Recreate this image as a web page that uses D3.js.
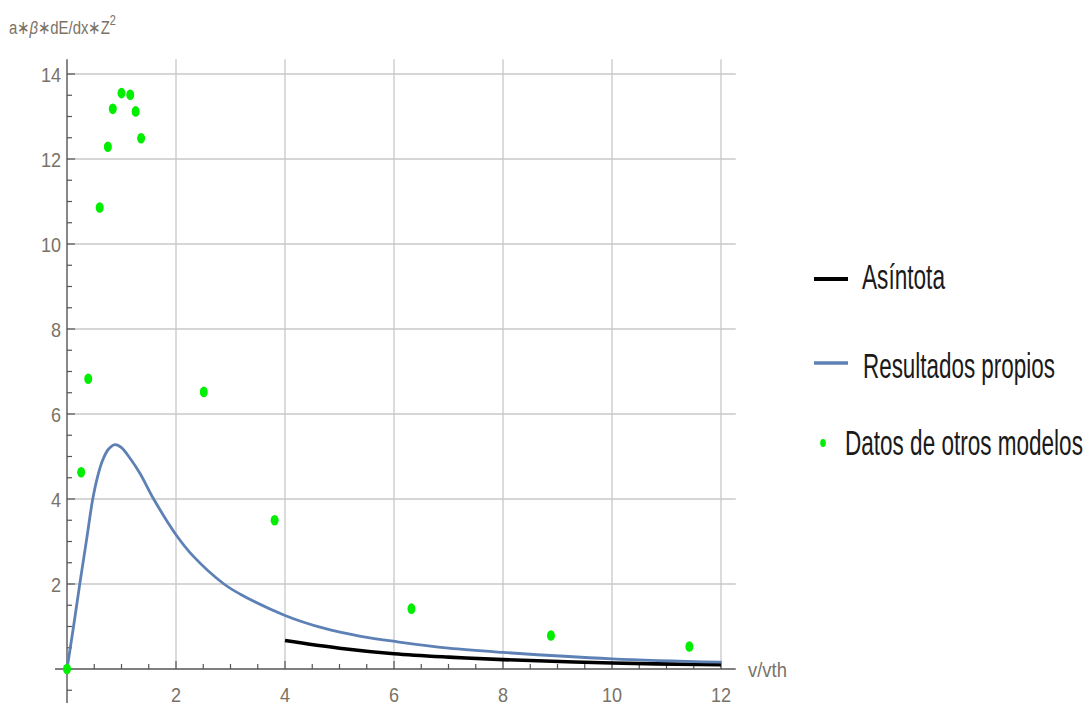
<!DOCTYPE html>
<html><head><meta charset="utf-8">
<script src="https://cdn.jsdelivr.net/npm/d3@7"></script>
<style>body{margin:0;background:#fff}svg{display:block}text{font-family:"Liberation Sans",Arial,sans-serif}</style>
</head><body>
<svg id="c" width="1090" height="705"></svg>
<script>
const xTicks = [2, 4, 6, 8, 10, 12];
const yTicks = [2, 4, 6, 8, 10, 12, 14];
const otrosX = [0, 0.26, 0.39, 0.60, 0.75, 0.84, 1.00, 1.16, 1.26, 1.36, 2.51, 3.81, 6.32, 8.88, 11.42];
const otrosY = [0, 4.63, 6.83, 10.86, 12.29, 13.18, 13.55, 13.51, 13.12, 12.49, 6.52, 3.50, 1.42, 0.79, 0.53];
const propiosX = [0, 0.12, 0.24, 0.36, 0.47, 0.56, 0.65, 0.76, 0.88, 1.0, 1.15, 1.34, 1.59, 2.0, 2.32, 2.88, 3.18, 4.0, 4.71, 5.39, 6.06, 7, 8, 10, 12];
const propiosY = [0, 1.0, 2.05, 3.05, 3.98, 4.52, 4.9, 5.17, 5.28, 5.21, 4.97, 4.6, 4.0, 3.16, 2.65, 2.0, 1.76, 1.26, 0.96, 0.77, 0.64, 0.49, 0.39, 0.24, 0.16];
const asintX = [4, 5, 6, 7, 8, 10, 12];
const asintY = [0.67, 0.49, 0.36, 0.28, 0.22, 0.14, 0.10];
const legendLabels = ["Asíntota", "Resultados propios", "Datos de otros modelos"];

const svg = d3.select("#c");
const x = d3.scaleLinear().domain([0, 12]).range([67, 721]);
const y = d3.scaleLinear().domain([0, 14]).range([669, 74]);

const gridC = "#c8c8c8", axisC = "#555", labC = "#7a7266", green = "#00ee00";

// gridlines
svg.append("g").selectAll("line").data(xTicks).join("line")
  .attr("x1", d => x(d)).attr("x2", d => x(d)).attr("y1", y(0)).attr("y2", y(14.35))
  .attr("stroke", gridC).attr("stroke-width", 1.3);
svg.append("g").selectAll("line").data(yTicks).join("line")
  .attr("x1", x(0)).attr("x2", x(12.27)).attr("y1", d => y(d)).attr("y2", d => y(d))
  .attr("stroke", gridC).attr("stroke-width", 1.3);

// axes
svg.append("line").attr("x1", x(-0.22)).attr("x2", x(12.27)).attr("y1", y(0)).attr("y2", y(0)).attr("stroke", axisC).attr("stroke-width", 1.4);
svg.append("line").attr("x1", x(0)).attr("x2", x(0)).attr("y1", y(-0.8)).attr("y2", y(14.35)).attr("stroke", axisC).attr("stroke-width", 1.4);

const xMinor = d3.range(0.5, 12.01, 0.5);
const yMinor = d3.range(-0.5, 14.01, 0.5).filter(v => Math.abs(v) > 1e-9);
svg.append("g").selectAll("line").data(xMinor).join("line")
  .attr("x1", d => x(d)).attr("x2", d => x(d)).attr("y1", y(0))
  .attr("y2", d => y(0) - (Math.abs(d % 2) < 1e-9 ? 8 : 5))
  .attr("stroke", axisC).attr("stroke-width", 1.2);
svg.append("g").selectAll("line").data(yMinor).join("line")
  .attr("y1", d => y(d)).attr("y2", d => y(d)).attr("x1", x(0))
  .attr("x2", d => x(0) + (Math.abs(d % 2) < 1e-9 ? 8 : 5))
  .attr("stroke", axisC).attr("stroke-width", 1.2);

// tick labels
const sx = 0.86;
svg.append("g").selectAll("g").data(yTicks).join("g")
  .attr("transform", d => `translate(61,${y(d) + 7.5}) scale(${sx},1)`)
  .append("text").attr("text-anchor", "end").attr("font-size", 21).attr("fill", labC).text(d => d);
svg.append("g").selectAll("g").data(xTicks).join("g")
  .attr("transform", d => `translate(${x(d)},702) scale(${sx},1)`)
  .append("text").attr("text-anchor", "middle").attr("font-size", 21).attr("fill", labC).text(d => d);

function fit(g, w) {
  const t = g.select("text");
  const bw = t.node().getComputedTextLength();
  t.attr("transform", `scale(${w / bw},1)`);
}
// axis labels
const xl = svg.append("g").attr("transform", "translate(748,677)");
xl.append("text").attr("font-size", 21).attr("fill", labC).text("v/vth");
fit(xl, 39);
const yl = svg.append("g").attr("transform", "translate(9,34)");
const ylt = yl.append("text").attr("font-size", 19).attr("fill", labC);
ylt.append("tspan").text("a∗");
ylt.append("tspan").attr("font-style", "italic").text("β");
ylt.append("tspan").text("∗dE/dx∗Z");
ylt.append("tspan").attr("font-size", 14).attr("dy", -9).text("2");
fit(yl, 108);

// curves
const line = d3.line().x(d => x(d[0])).y(d => y(d[1])).curve(d3.curveCatmullRom.alpha(0.5));
svg.append("path").datum(asintX.map((v, i) => [v, asintY[i]])).attr("d", line)
  .attr("fill", "none").attr("stroke", "#000").attr("stroke-width", 3.6);
svg.append("path").datum(propiosX.map((v, i) => [v, propiosY[i]])).attr("d", line)
  .attr("fill", "none").attr("stroke", "#5e81b5").attr("stroke-width", 2.8);

// points
svg.append("g").selectAll("ellipse").data(otrosX.map((v, i) => [v, otrosY[i]])).join("ellipse")
  .attr("cx", d => x(d[0])).attr("cy", d => y(d[1])).attr("rx", 4).attr("ry", 5.3)
  .attr("fill", green);

// legend
const lg = svg.append("g");
lg.append("line").attr("x1", 814).attr("x2", 848).attr("y1", 279).attr("y2", 279).attr("stroke", "#000").attr("stroke-width", 4);
lg.append("line").attr("x1", 814).attr("x2", 848).attr("y1", 363).attr("y2", 363).attr("stroke", "#5e81b5").attr("stroke-width", 3.5);
lg.append("ellipse").attr("cx", 823).attr("cy", 443).attr("rx", 2.8).attr("ry", 4).attr("fill", green);
const lpos = [[862, 289, 83], [863, 378, 192], [845, 455, 238]];
legendLabels.forEach((t, i) => {
  const g = lg.append("g").attr("transform", `translate(${lpos[i][0]},${lpos[i][1]})`);
  g.append("text").attr("font-size", 35).attr("fill", "#1a1a1a").text(t);
  fit(g, lpos[i][2]);
});
</script>
</body></html>
